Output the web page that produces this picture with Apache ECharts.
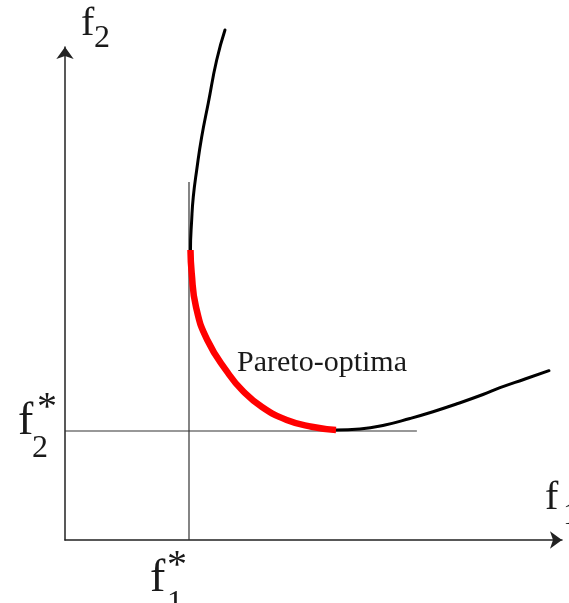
<!DOCTYPE html>
<html>
<head>
<meta charset="utf-8">
<script src="https://cdn.jsdelivr.net/npm/echarts@6/dist/echarts.min.js"></script>
<style>
  html, body { margin: 0; padding: 0; background: #fff; }
  #chart { width: 569px; height: 603px; }
</style>
</head>
<body>
<div id="chart"></div>
<script>
// Objective space (f1, f2), both axes on an arbitrary 0..100 scale.
const f1Star = 24.95;           // ideal value of f1
const f2Star = 22.11;           // ideal value of f2
const f1StarLineTop = 72.6;     // upper end of the vertical f1* guide
const f2StarLineEnd = 70.8;     // right end of the horizontal f2* guide

// Upper branch of the attainable-set boundary (not Pareto optimal)
const upperBranch = [
  [32.19, 103.45], [30.52, 97.36], [28.83, 88.64], [27.50, 81.74],
  [26.50, 75.05], [25.81, 69.57], [25.49, 64.91], [25.25, 58.82]
];
// Pareto-optimal front
const paretoFront = [
  [25.25, 58.82], [25.49, 54.16], [26.36, 47.26], [28.63, 40.57],
  [32.80, 33.87], [35.61, 30.43], [39.64, 26.98], [44.61, 24.34],
  [49.64, 22.98], [54.53, 22.31]
];
// Lower branch of the boundary (not Pareto optimal)
const lowerBranch = [
  [54.53, 22.31], [59.35, 22.52], [64.39, 23.33], [69.42, 24.65],
  [74.04, 26.02], [79.07, 27.69], [84.10, 29.51], [87.53, 30.89],
  [92.56, 32.66], [97.38, 34.34]
];

const serif = '"Liberation Serif", "DejaVu Serif", serif';
const ink = '#1a1a1a';

const chart = echarts.init(document.getElementById('chart'), null, { renderer: 'canvas' });

function axis() {
  return {
    type: 'value', min: 0, max: 100,
    axisLine: {
      show: true, onZero: false,
      symbol: ['none', 'arrow'], symbolSize: [13, 12],
      lineStyle: { color: '#222', width: 1.5 }
    },
    axisTick: { show: false },
    axisLabel: { show: false },
    splitLine: { show: false }
  };
}

function txt(x, y, text, size) {
  return {
    type: 'text', x: x, y: y, silent: true,
    style: { text: text, font: size + 'px ' + serif, fill: ink,
             align: 'left', verticalAlign: 'middle' }
  };
}

chart.setOption({
  animation: false,
  backgroundColor: '#fff',
  grid: { left: 65, right: 7, top: 47, bottom: 63 },
  xAxis: axis(),
  yAxis: axis(),
  series: [
    {
      type: 'line', name: 'f1*', silent: true, symbol: 'none', clip: false, z: 1,
      data: [[f1Star, 0], [f1Star, f1StarLineTop]],
      lineStyle: { color: '#333', width: 1.2 }
    },
    {
      type: 'line', name: 'f2*', silent: true, symbol: 'none', clip: false, z: 1,
      data: [[0, f2Star], [f2StarLineEnd, f2Star]],
      lineStyle: { color: '#333', width: 1.2 }
    },
    {
      type: 'line', name: 'boundary', silent: true, symbol: 'none', clip: false, z: 2,
      smooth: 0.5,
      data: upperBranch.concat(paretoFront.slice(1), lowerBranch.slice(1)),
      lineStyle: { color: '#000', width: 3, cap: 'round' }
    },
    {
      type: 'line', name: 'Pareto-optima', silent: true, symbol: 'none', clip: false, z: 3,
      smooth: 0.5,
      data: paretoFront,
      lineStyle: { color: '#ff0000', width: 6.5, cap: 'butt' }
    }
  ],
  graphic: [
    // f2 (vertical axis name)
    txt(81, 24, 'f', 40),
    txt(94, 39, '2', 32),
    // f1 (horizontal axis name)
    txt(545, 498, 'f', 40),
    txt(563, 516, '1', 32),
    // f2*
    txt(18, 422, 'f', 46),
    txt(37, 408, '*', 40),
    txt(32, 449, '2', 32),
    // f1*
    txt(150, 579, 'f', 46),
    txt(167, 566, '*', 40),
    txt(167, 604, '1', 32),
    // region label
    txt(237, 363, 'Pareto-optima', 30)
  ]
});
</script>
</body>
</html>
